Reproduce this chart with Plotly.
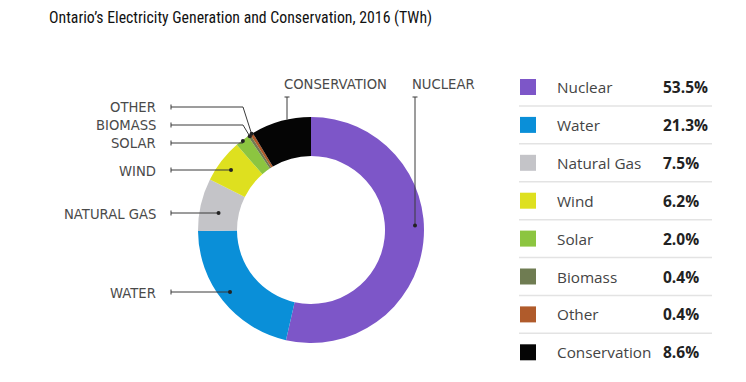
import math
import plotly.graph_objects as go

# ---- data ----
categories = ["Nuclear", "Water", "Natural Gas", "Wind", "Solar", "Biomass", "Other", "Conservation"]
shares = [53.5, 21.3, 7.5, 6.2, 2.0, 0.4, 0.4, 8.6]
value_labels = ["53.5%", "21.3%", "7.5%", "6.2%", "2.0%", "0.4%", "0.4%", "8.6%"]
colors = ["#7D56C8", "#0A8FD8", "#C4C4C8", "#DEE01F", "#8CC540", "#6F7C52", "#B05B2B", "#050505"]
callout_labels = ["NUCLEAR", "WATER", "NATURAL GAS", "WIND", "SOLAR", "BIOMASS", "OTHER", "CONSERVATION"]

W, H = 746, 382
CX, CY, R = 311, 230, 113
HOLE = 0.655

def px(x):
    return x / W

def py(y):
    return 1 - y / H

fig = go.Figure()
fig.add_trace(go.Pie(
    labels=categories, values=shares, sort=False, direction="clockwise", rotation=0,
    hole=HOLE, marker=dict(colors=colors, line=dict(width=0)), textinfo="none",
    hoverinfo="label+percent", showlegend=False,
    domain=dict(x=[px(CX - R), px(CX + R)], y=[py(CY + R), py(CY - R)]),
))

shapes = []
annotations = []
LINE = dict(color="#3a3a3a", width=1)
LABEL_FONT = dict(family="DejaVu Sans", size=13.2, color="#4a4a4a")

total = sum(shares)
cum = 0
mids = []
for v in shares:
    mids.append(2 * math.pi * (cum + v / 2) / total)
    cum += v

def ring_point(i, r):
    a = mids[i]
    return CX + r * math.sin(a), CY - r * math.cos(a)

def add_dot(x, y):
    shapes.append(dict(type="circle", xref="paper", yref="paper", layer="above",
                       x0=px(x - 2), x1=px(x + 2), y0=py(y + 2), y1=py(y - 2),
                       fillcolor="#222", line=dict(width=0)))

def add_path(points):
    d = "M " + " L ".join(f"{px(x)},{py(y)}" for x, y in points)
    shapes.append(dict(type="path", xref="paper", yref="paper", layer="above",
                       path=d, line=LINE))

LX = 171
# left callouts, horizontal leaders meeting the ring: (index, radius, leader y)
for i, r, ly in [(1, 102, 292), (2, 94, 213), (3, 100, 170)]:
    dx, dy = CX - math.sqrt(r * r - (ly - CY) ** 2), ly
    add_path([(LX, ly), (dx, dy)])
    add_path([(LX, ly - 2.5), (LX, ly + 2.5)])
    add_dot(dx, dy)
    annotations.append(dict(x=px(158), y=py(ly + 1), xref="paper", yref="paper",
                            text=callout_labels[i], showarrow=False, xanchor="right",
                            align="right", yanchor="middle", font=LABEL_FONT))

# left callouts for thin slices, elbow leaders to the slice middle: (index, radius, label y)
for i, r, ly in [(4, 112, 143), (5, 112, 125), (6, 113, 107)]:
    dx, dy = ring_point(i, r)
    ex = min(243, dx)
    add_path([(LX, ly), (ex, ly), (dx, dy)])
    add_path([(LX, ly - 2.5), (LX, ly + 2.5)])
    add_dot(dx, dy)
    annotations.append(dict(x=px(158), y=py(ly + 1), xref="paper", yref="paper",
                            text=callout_labels[i], showarrow=False, xanchor="right",
                            align="right", yanchor="middle", font=LABEL_FONT))

# top callouts: line drops from the label to the ring
top_specs = {7: (113, 282, False), 0: (104.1, 410, True)}
for i, (r, lx, dot) in top_specs.items():
    x = lx + 5
    y = CY - math.sqrt(max(r * r - (x - CX) ** 2, 0))
    add_path([(x, 97), (x, y)])
    add_path([(x - 2.5, 97), (x + 2.5, 97)])
    if dot:
        add_dot(x, y)
    annotations.append(dict(x=px(lx), y=py(84), xref="paper", yref="paper",
                            text=callout_labels[i], showarrow=False, xanchor="left",
                            align="left", yanchor="middle", font=LABEL_FONT))

# custom legend table
ROW0, STEP = 87, 37.9
for i, (c, lab, val) in enumerate(zip(colors, categories, value_labels)):
    yc = ROW0 + i * STEP
    shapes.append(dict(type="rect", xref="paper", yref="paper",
                       x0=px(520), x1=px(536), y0=py(yc + 8), y1=py(yc - 8),
                       fillcolor=c, line=dict(width=0)))
    annotations.append(dict(x=px(555), y=py(yc), xref="paper", yref="paper", text=lab,
                            showarrow=False, xanchor="left", align="left", yanchor="middle",
                            font=dict(family="Open Sans", size=15.3, color="#444444")))
    annotations.append(dict(x=px(661), y=py(yc), xref="paper", yref="paper",
                            text=f"<b>{val}</b>", showarrow=False, xanchor="left",
                            align="left", yanchor="middle",
                            font=dict(family="Open Sans", size=15.5, color="#222222")))
    if i < len(categories) - 1:
        ys = yc + STEP / 2
        shapes.append(dict(type="line", xref="paper", yref="paper",
                           x0=px(519), x1=px(712), y0=py(ys), y1=py(ys),
                           line=dict(color="#E3E3E3", width=1.5)))

annotations.append(dict(x=px(47), y=py(18), xref="paper", yref="paper",
                        text="Ontario’s Electricity Generation and Conservation, 2016 (TWh)",
                        showarrow=False, xanchor="left", align="left", yanchor="middle",
                        font=dict(family="Liberation Sans Narrow, Roboto Condensed, Lato",
                                  size=15.8, color="#111111")))

fig.update_layout(
    width=W, height=H, margin=dict(l=0, r=0, t=0, b=0),
    paper_bgcolor="white", plot_bgcolor="white",
    shapes=shapes, annotations=annotations, showlegend=False,
)
fig.write_html("out.html", config={"displayModeBar": False},
               post_script="document.body.style.margin='0px';")
